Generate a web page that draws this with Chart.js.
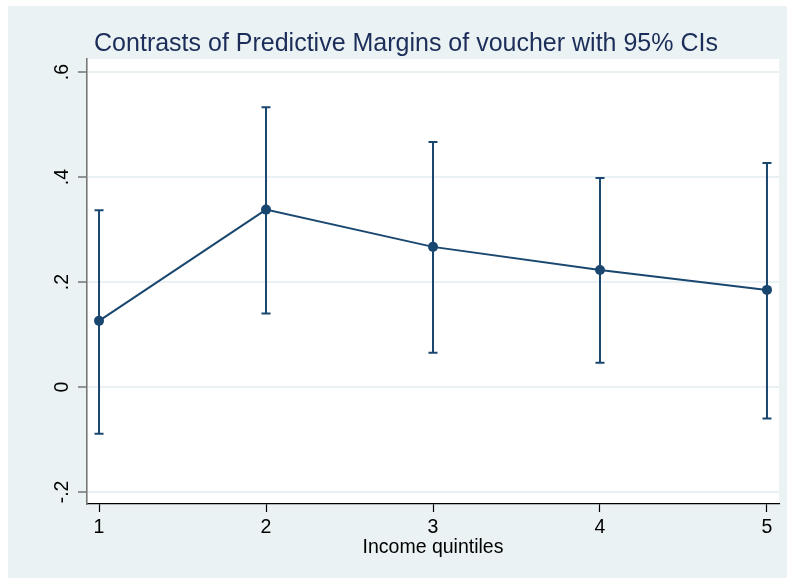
<!DOCTYPE html>
<html>
<head>
<meta charset="utf-8">
<script src="https://cdn.jsdelivr.net/npm/chart.js@4"></script>
<style>
body{margin:0;background:#fff;}
#chart{position:absolute;left:8px;top:6px;background:#eaf2f3;}
</style>
</head>
<body>
<canvas id="chart" width="779" height="572"></canvas>
<script>
const quintiles=[1,2,3,4,5];
const margins=[0.126,0.338,0.267,0.223,0.185];
const ciLow=[-0.089,0.140,0.065,0.046,-0.060];
const ciHigh=[0.337,0.533,0.467,0.398,0.427];
const yTicks=[-0.2,0,0.2,0.4,0.6];
const navy="#1a476f";
const font="'Liberation Sans', Arial, sans-serif";

function fmt(v){
  if(Math.abs(v)<1e-9) return "0";
  return v.toFixed(1).replace("0.",".");
}

const plotBg={
  id:"plotBg",
  beforeDraw(chart){
    const a=chart.chartArea,ctx=chart.ctx;
    ctx.save();
    ctx.fillStyle="#fff";
    ctx.fillRect(a.left,a.top,a.right-a.left,a.bottom-a.top);
    ctx.restore();
  }
};

const errorBars={
  id:"errorBars",
  beforeDatasetsDraw(chart){
    const x=chart.scales.x,y=chart.scales.y,ctx=chart.ctx;
    ctx.save();
    ctx.strokeStyle=navy;
    ctx.lineWidth=2;
    quintiles.forEach((q,i)=>{
      const px=x.getPixelForValue(q);
      const lo=y.getPixelForValue(ciLow[i]);
      const hi=y.getPixelForValue(ciHigh[i]);
      ctx.beginPath();
      ctx.moveTo(px,lo);ctx.lineTo(px,hi);
      ctx.moveTo(px-4.5,lo);ctx.lineTo(px+4.5,lo);
      ctx.moveTo(px-4.5,hi);ctx.lineTo(px+4.5,hi);
      ctx.stroke();
    });
    ctx.restore();
  }
};

const yLabels={
  id:"yLabels",
  afterDraw(chart){
    const y=chart.scales.y,ctx=chart.ctx;
    ctx.save();
    ctx.fillStyle="#000";
    ctx.font="19.5px "+font;
    ctx.textAlign="center";
    ctx.textBaseline="alphabetic";
    yTicks.forEach(v=>{
      ctx.save();
      ctx.translate(60,y.getPixelForValue(v));
      ctx.rotate(-Math.PI/2);
      ctx.fillText(fmt(v),0,0);
      ctx.restore();
    });
    ctx.restore();
  }
};

new Chart(document.getElementById("chart"),{
  type:"line",
  data:{
    datasets:[{
      data:quintiles.map((q,i)=>({x:q,y:margins[i]})),
      borderColor:navy,
      backgroundColor:navy,
      borderWidth:2,
      pointRadius:5,
      pointBackgroundColor:navy,
      pointBorderWidth:0,
      tension:0
    }]
  },
  options:{
    responsive:false,
    animation:false,
    layout:{padding:{left:25,right:8,top:0,bottom:0}},
    plugins:{
      legend:{display:false},
      tooltip:{enabled:false},
      title:{
        display:true,
        text:"Contrasts of Predictive Margins of voucher with 95% CIs",
        color:"#1c2d5a",
        font:{family:font,size:25,weight:"normal"},
        padding:{top:23,bottom:0}
      }
    },
    scales:{
      x:{
        type:"linear",
        min:0.928,max:5.072,
        afterBuildTicks:s=>{s.ticks=quintiles.map(v=>({value:v}));},
        afterFit:s=>{s.height=74;},
        ticks:{color:"#000",font:{family:font,size:19.5},padding:4,callback:v=>String(v)},
        grid:{color:"rgba(0,0,0,0)",tickColor:"#000",tickLength:8,tickWidth:1.2},
        border:{color:"#000",width:1.3},
        title:{display:true,text:"Income quintiles",color:"#000",font:{family:font,size:19.5},padding:{top:0,bottom:19}}
      },
      y:{
        type:"linear",
        min:-0.223,max:0.625,
        afterBuildTicks:s=>{s.ticks=yTicks.map(v=>({value:v}));},
        afterFit:s=>{s.width=54;},
        ticks:{display:false},
        grid:{color:"#eaf1f4",lineWidth:2,tickColor:"#555",tickLength:9,tickWidth:1.2},
        border:{color:"#777",width:1.6}
      }
    }
  },
  plugins:[plotBg,errorBars,yLabels]
});
</script>
</body>
</html>
